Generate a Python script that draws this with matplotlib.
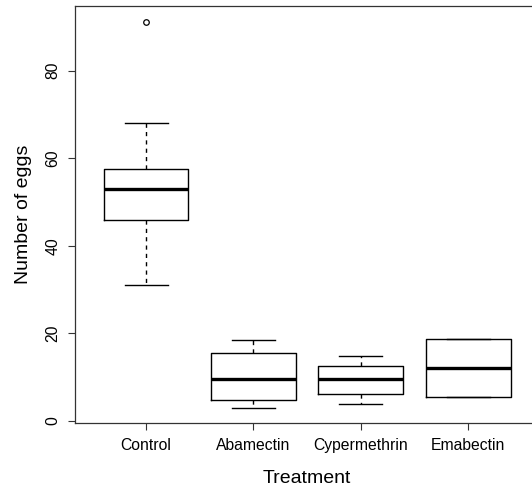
import matplotlib
matplotlib.use("Agg")
import matplotlib.pyplot as plt

plt.rcParams['font.family'] = ['Liberation Sans', 'DejaVu Sans']

# data
treatments = ['Control', 'Abamectin', 'Cypermethrin', 'Emabectin']
whisker_low = [31.0, 3.0, 3.8, 5.5]
q1 = [46.0, 4.8, 6.2, 5.5]
medians = [53.0, 9.5, 9.5, 12.2]
q3 = [57.5, 15.5, 12.6, 18.7]
whisker_high = [68.0, 18.5, 14.9, 18.7]
outliers = [[91.0], [], [], []]

stats = []
for i, name in enumerate(treatments):
    stats.append({'label': name, 'whislo': whisker_low[i], 'q1': q1[i], 'med': medians[i],
                  'q3': q3[i], 'whishi': whisker_high[i], 'fliers': outliers[i]})

fig = plt.figure(figsize=(5.32, 4.93), dpi=100)
ax = fig.add_axes([0.1404, 0.1414, 0.874, 0.8465])

ax.bxp(stats, positions=range(1, 5), widths=0.79, showfliers=True,
       boxprops=dict(color='black', linewidth=1.0),
       medianprops=dict(color='black', linewidth=2.4, solid_capstyle='butt'),
       whiskerprops=dict(color='black', linewidth=1.0, linestyle=(0, (3, 3))),
       capprops=dict(color='black', linewidth=1.0),
       capwidths=0.4,
       flierprops=dict(marker='o', markerfacecolor='none', markeredgecolor='black',
                       markersize=4, markeredgewidth=0.9))

ax.set_xlim(0.336, 4.664)
ax.set_ylim(-0.52, 94.77)
ax.set_yticks([0, 20, 40, 60, 80])
ax.set_yticklabels(['0', '20', '40', '60', '80'], rotation=90, va='center')
ax.set_xticks(range(1, 5))
ax.set_xticklabels(treatments)

ax.tick_params(axis='both', direction='out', length=5.2, width=0.8, labelsize=11.3, color='#333333')
ax.tick_params(axis='y', pad=5)
ax.tick_params(axis='x', pad=5.5)
for s in ['left', 'bottom', 'top']:
    ax.spines[s].set_linewidth(0.9)
    ax.spines[s].set_color('#333333')
ax.spines['right'].set_visible(False)

ax.set_xlabel('Treatment', fontsize=14, labelpad=12)
ax.set_ylabel('Number of eggs', fontsize=14, labelpad=10)

fig.savefig('out.png', dpi=100)
